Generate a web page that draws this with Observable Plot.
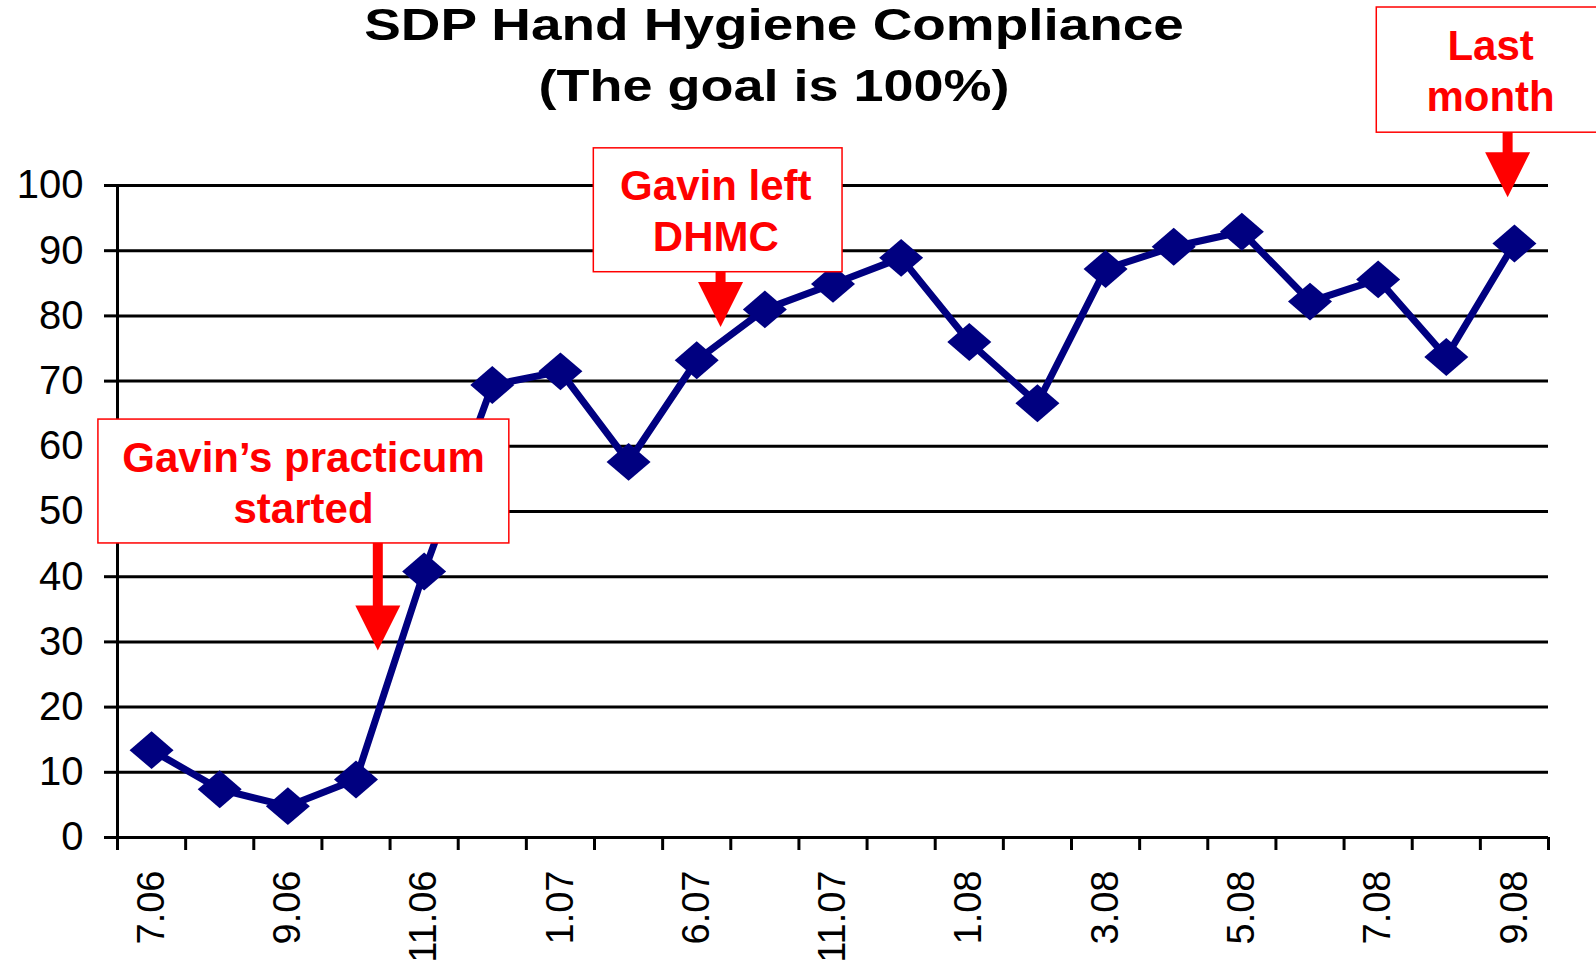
<!DOCTYPE html>
<html><head><meta charset="utf-8">
<script src="https://cdn.jsdelivr.net/npm/d3@7"></script>
<script src="https://cdn.jsdelivr.net/npm/@observablehq/plot@0.6"></script>
<style>
body{margin:0;background:#fff;}
#wrap{position:relative;width:1596px;height:963px;overflow:hidden;font-family:"Liberation Sans",Arial,sans-serif;background:#fff;}
#chart{position:absolute;left:0;top:0;}
.t{position:absolute;left:0;width:1548px;text-align:center;font-weight:bold;font-size:45px;line-height:48px;color:#000;transform:scaleX(1.2);transform-origin:774px 0;white-space:nowrap;}
</style></head>
<body>
<div id="wrap">
  <div id="chart"></div>
  <div class="t" style="top:1px;transform:scaleX(1.22)">SDP Hand Hygiene Compliance</div>
  <div class="t" style="top:62px">(The goal is 100%)</div>
</div>
<script>
// Months (every other one is labelled on the axis)
const months = ["7.06","8.06","9.06","10.06","11.06","12.06","1.07","3.07","6.07","9.07","11.07","12.07","1.08","2.08","3.08","4.08","5.08","6.08","7.08","8.08","9.08"];
// Hand hygiene compliance, %
const values = [13.4, 7.4, 4.8, 8.9, 40.8, 69.4, 71.5, 57.6, 73.2, 81.0, 84.9, 88.9, 76.0, 66.6, 87.2, 90.6, 92.9, 82.2, 85.6, 73.7, 91.1];
const yTicks = [0, 10, 20, 30, 40, 50, 60, 70, 80, 90, 100];

// Annotation callouts (in data units: x = month index, y = percent)
const noteBoxes = [
  {x1: -0.78, x2: 5.25, y1: 45.1, y2: 64.1},
  {x1: 6.49, x2: 10.14, y1: 86.7, y2: 105.7},
  {x1: 17.98, x2: 21.32, y1: 108.1, y2: 127.3}
];
const noteLines = [
  {text: "Gavin\u2019s practicum", x: 2.23, y: 56.0},
  {text: "started", x: 2.23, y: 48.2},
  {text: "Gavin left", x: 8.28, y: 97.7},
  {text: "DHMC", x: 8.28, y: 90.0},
  {text: "Last", x: 19.65, y: 119.2},
  {text: "month", x: 19.65, y: 111.5}
];
const noteArrows = [
  {x: 3.32, yTop: 45.1, yHead: 35.0, yTip: 28.7},
  {x: 8.35, yTop: 86.7, yHead: 84.5, yTip: 78.3},
  {x: 19.9, yTop: 108.1, yHead: 104.5, yTip: 98.2}
];

const data = values.map((v, i) => ({i, month: months[i], v}));
const boundaries = d3.range(-0.5, months.length, 1);
const labelIdx = d3.range(0, months.length, 2);

const diamond = {draw(ctx, size) {
  const r = Math.sqrt(size / Math.PI);
  ctx.moveTo(0, -r * 0.86); ctx.lineTo(r, 0); ctx.lineTo(0, r * 0.86); ctx.lineTo(-r, 0); ctx.closePath();
}};
const arrowHead = {draw(ctx, size) {
  const r = Math.sqrt(size / Math.PI);
  ctx.moveTo(0, 0); ctx.lineTo(-r, -2 * r); ctx.lineTo(r, -2 * r); ctx.closePath();
}};

const chart = Plot.plot({
  width: 1596, height: 963,
  marginTop: 185, marginBottom: 126, marginLeft: 117, marginRight: 48,
  x: {domain: [-0.5, months.length - 0.5]},
  y: {domain: [0, 100]},
  style: {fontFamily: "'Liberation Sans', Arial, sans-serif", background: "transparent", overflow: "visible", color: "black"},
  marks: [
    Plot.gridY(yTicks, {stroke: "black", strokeOpacity: 1, strokeWidth: 3}),
    Plot.axisY(yTicks, {tickSize: 13, tickPadding: 21, fontSize: 40, strokeWidth: 3, label: null, tickFormat: d => String(d)}),
    Plot.ruleX([-0.5], {y1: 0, y2: 100, stroke: "black", strokeWidth: 3}),
    Plot.axisX(boundaries, {tickSize: 13, tickFormat: () => "", strokeWidth: 3, label: null}),
    Plot.axisX(labelIdx, {tickSize: 0, tickRotate: -90, tickPadding: 33, fontSize: 38, tickFormat: i => months[i], label: null}),
    Plot.line(data, {x: "i", y: "v", stroke: "#000080", strokeWidth: 7}),
    Plot.dot(data, {x: "i", y: "v", symbol: diamond, r: 22, fill: "#000080"}),
    Plot.rect(noteBoxes, {x1: "x1", x2: "x2", y1: "y1", y2: "y2", fill: "white", stroke: "#FF0000", strokeWidth: 1.5}),
    Plot.ruleX(noteArrows, {x: "x", y1: "yTop", y2: "yHead", stroke: "#FF0000", strokeWidth: 10}),
    Plot.dot(noteArrows, {x: "x", y: "yTip", symbol: arrowHead, r: 22.5, fill: "#FF0000"}),
    Plot.text(noteLines, {x: "x", y: "y", text: "text", fill: "#FF0000", fontSize: 42, fontWeight: "bold", lineAnchor: "bottom"})
  ]
});
document.getElementById("chart").appendChild(chart);
</script>
</body></html>
